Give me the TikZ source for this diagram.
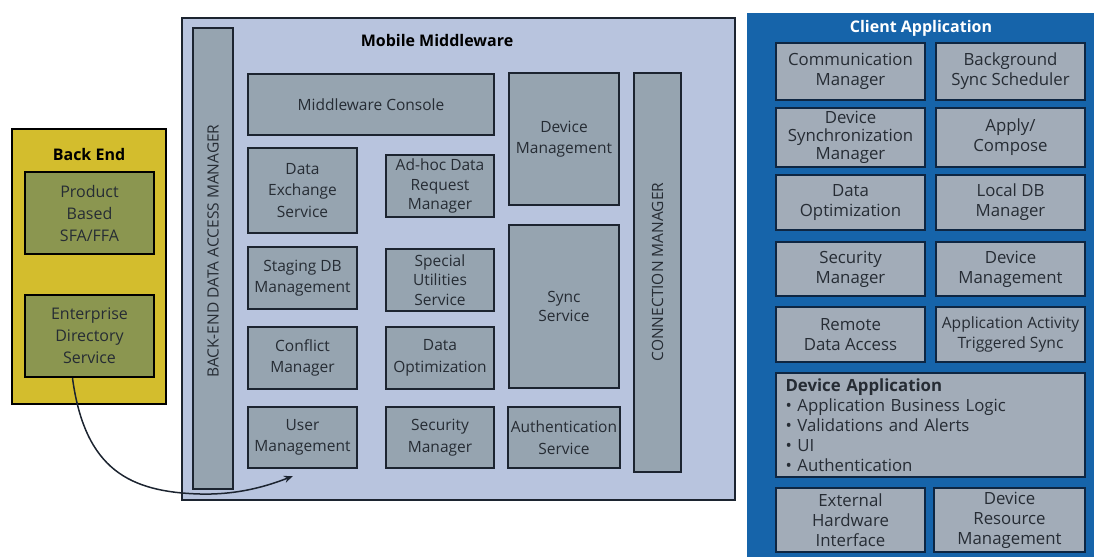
\documentclass[tikz,border=0pt]{standalone}
\usepackage{fontspec}
\setmainfont{Open Sans}
\usetikzlibrary{arrows.meta}
\definecolor{beyel}{RGB}{211,189,45}
\definecolor{beinn}{RGB}{139,150,80}
\definecolor{mwbg}{RGB}{184,196,222}
\definecolor{mwbx}{RGB}{150,164,176}
\definecolor{clblue}{RGB}{22,100,170}
\definecolor{clbx}{RGB}{162,172,184}
\definecolor{bord}{RGB}{28,36,48}
\definecolor{clbord}{RGB}{14,38,66}
\definecolor{txt}{RGB}{38,44,52}
\newcommand\bx[7]{\node[#1,minimum width={#5-#3},minimum height={#6-#4}] (#2) at ({(#3+#5)/2},{(#4+#6)/2}) {#7};}
\begin{document}
\begin{tikzpicture}[x=1pt,y=-1pt,
  bebox/.style={draw=black,line width=2.4pt,fill=beinn,text=txt,align=center,inner sep=1pt,font=\fontsize{16}{22}\selectfont},
  mwbox/.style={draw=bord,line width=2.4pt,fill=mwbx,text=txt,align=center,inner sep=1pt,font=\fontsize{15.5}{21.5}\selectfont},
  mwtight/.style={mwbox,font=\fontsize{15.5}{19.5}\selectfont},
  clbox/.style={draw=clbord,line width=2.4pt,fill=clbx,text=txt,align=center,inner sep=1pt,font=\fontsize{16.8}{20}\selectfont},
  cltight/.style={clbox,font=\fontsize{16.8}{18}\selectfont},
  ttl/.style={font=\bfseries\fontsize{16}{19}\selectfont,inner sep=0pt},
  vlab/.style={rotate=90,text=txt,inner sep=0pt,font=\fontsize{15.5}{18}\selectfont},
  conn/.style={draw=bord,line width=1.5pt,-{Stealth[length=9pt,width=7pt]}}]
\useasboundingbox (0,0) rectangle (1100,557);
% Back End
\bx{draw=black,line width=2.4pt,fill=beyel}{be}{12}{129}{166}{404}{}
\node[ttl,text=black] (bet) at (89,154) {Back End};
\bx{bebox}{psfa}{25}{172}{154}{254}{Product\\Based\\SFA/FFA}
\bx{bebox}{eds}{25}{295}{154}{377}{Enterprise\\Directory\\Service}
% Mobile Middleware
\bx{draw=bord,line width=2pt,fill=mwbg}{mw}{182}{18}{735}{500}{}
\node[ttl,text=black] (mwt) at (437,40) {Mobile Middleware};
\bx{mwbox}{bdam}{193}{28}{233}{489}{}
\node[vlab] (bdamt) at (213,251) {BACK-END DATA ACCESS MANAGER};
\bx{mwbox}{cm}{634}{73}{681}{472}{}
\node[vlab] (cmt) at (657.5,272) {CONNECTION MANAGER};
\bx{mwbox}{mc}{248}{74}{494}{135}{Middleware Console}
\bx{mwbox}{dm}{509}{73}{619}{205}{Device\\Management}
\bx{mwbox}{des}{248}{148}{357}{233}{Data\\Exchange\\Service}
\bx{mwtight}{adh}{386}{155}{494}{217}{Ad-hoc Data\\Request\\Manager}
\bx{mwbox}{sdb}{248}{247}{357}{309}{Staging DB\\Management}
\bx{mwtight}{sus}{386}{249}{494}{311}{Special\\Utilities\\Service}
\bx{mwtight}{ss}{509}{225}{619}{388}{Sync\\Service}
\bx{mwbox}{cfm}{248}{327}{357}{389}{Conflict\\Manager}
\bx{mwbox}{dop}{386}{327}{494}{389}{Data\\Optimization}
\bx{mwbox}{um}{248}{407}{357}{468}{User\\Management}
\bx{mwbox}{sm}{386}{407}{494}{468}{Security\\Manager}
\bx{mwbox}{as}{508}{407}{620}{468}{Authentication\\Service}
% Client Application
\bx{fill=clblue}{ca}{747}{13}{1094}{557}{}
\node[ttl,text=white] (cat) at (921,28) {Client Application};
\bx{clbox}{com}{776}{43}{925}{100}{Communication\\Manager}
\bx{clbox}{bss}{936}{43}{1085}{100}{Background\\Sync Scheduler}
\bx{cltight}{dsm}{776}{108}{925}{167}{Device\\Synchronization\\Manager}
\bx{clbox}{apc}{936}{108}{1085}{167}{Apply/\\Compose}
\bx{clbox}{cdo}{776}{175}{925}{230}{Data\\Optimization}
\bx{clbox}{ldb}{936}{175}{1085}{230}{Local DB\\Manager}
\bx{clbox}{csm}{776}{242}{925}{296}{Security\\Manager}
\bx{clbox}{cdm}{936}{242}{1085}{296}{Device\\Management}
\bx{clbox}{rda}{776}{307}{925}{362}{Remote\\Data Access}
\bx{clbox,font=\fontsize{15.6}{20}\selectfont}{aats}{936}{307}{1085}{362}{Application Activity\\Triggered Sync}
\bx{clbox,align=left,text width=290pt,inner sep=3pt}{dapp}{776}{373}{1085}{477}{\textbf{Device Application}\\\textbullet\ Application Business Logic\\\textbullet\ Validations and Alerts\\\textbullet\ UI\\\textbullet\ Authentication}
\bx{clbox}{ehi}{776}{488}{925}{552}{External\\Hardware\\Interface}
\bx{clbox}{drm}{934}{488}{1085}{552}{Device\\Resource\\Management}
% connector
\coordinate (aend) at (293,476);
\draw[conn] ([xshift=-17pt]eds.south) .. controls (85,470) and (130,492) .. (200,494) .. controls (240,495) and (270,485) .. (aend);
\end{tikzpicture}
\end{document}
